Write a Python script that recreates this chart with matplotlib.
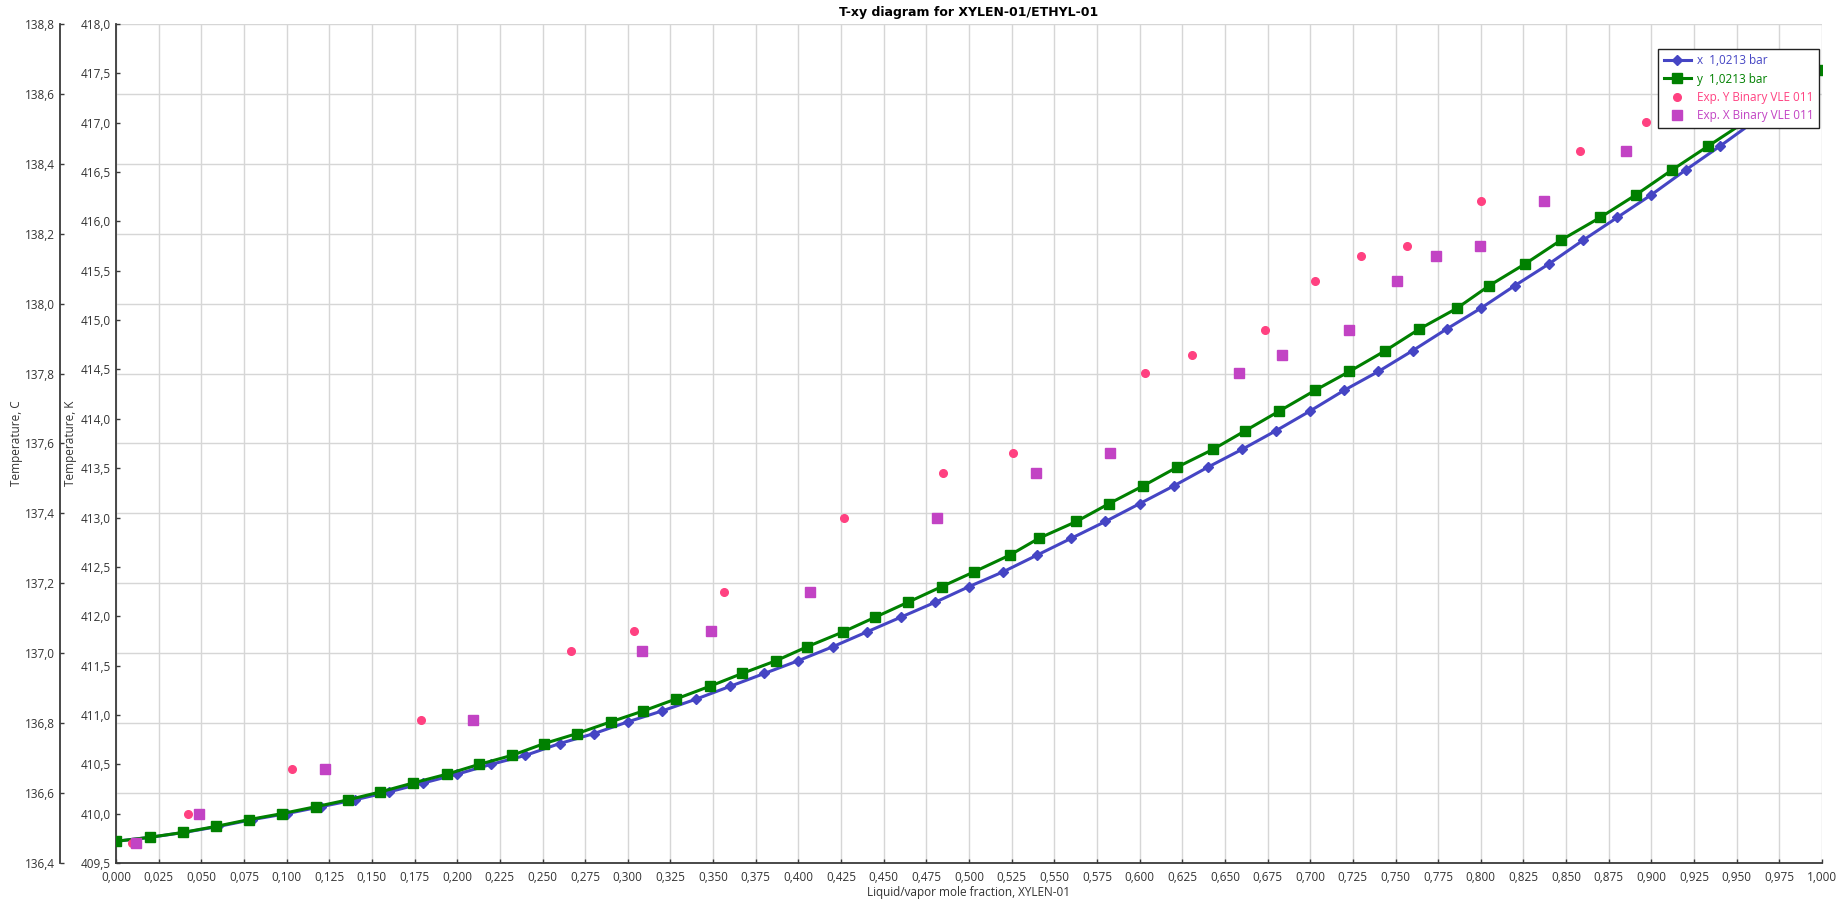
import numpy as np
import matplotlib.pyplot as plt
from matplotlib.ticker import FuncFormatter, MultipleLocator

plt.rcParams['font.family'] = ['Open Sans', 'DejaVu Sans']

# --- model curves at 1,0213 bar (T in K) ---
x_liq = [0.00, 0.02, 0.04, 0.06, 0.08, 0.10, 0.12, 0.14, 0.16, 0.18,
         0.20, 0.22, 0.24, 0.26, 0.28, 0.30, 0.32, 0.34, 0.36, 0.38,
         0.40, 0.42, 0.44, 0.46, 0.48, 0.50, 0.52, 0.54, 0.56, 0.58,
         0.60, 0.62, 0.64, 0.66, 0.68, 0.70, 0.72, 0.74, 0.76, 0.78,
         0.80, 0.82, 0.84, 0.86, 0.88, 0.90, 0.92, 0.94, 0.96, 0.98, 1.00]
y_vap = [0.000, 0.0197, 0.0394, 0.0584, 0.078, 0.0972, 0.117, 0.136, 0.155, 0.174,
         0.194, 0.213, 0.232, 0.251, 0.270, 0.290, 0.309, 0.328, 0.348, 0.367,
         0.387, 0.405, 0.426, 0.445, 0.464, 0.484, 0.503, 0.524, 0.541, 0.563,
         0.582, 0.602, 0.622, 0.643, 0.662, 0.682, 0.703, 0.723, 0.744, 0.764,
         0.786, 0.805, 0.826, 0.847, 0.870, 0.891, 0.912, 0.933, 0.955, 0.977, 1.000]
T_model = [409.72, 409.76, 409.81, 409.87, 409.94, 410.00, 410.07, 410.14, 410.22, 410.31,
           410.40, 410.50, 410.59, 410.71, 410.81, 410.93, 411.04, 411.16, 411.29, 411.42,
           411.55, 411.69, 411.84, 411.99, 412.14, 412.30, 412.45, 412.62, 412.79, 412.96,
           413.14, 413.32, 413.51, 413.69, 413.88, 414.08, 414.29, 414.48, 414.69, 414.91,
           415.12, 415.35, 415.57, 415.81, 416.04, 416.27, 416.52, 416.76, 417.01, 417.27, 417.53]

# --- experimental data (Binary VLE 011) ---
T_exp = [409.70, 410.00, 410.455, 410.95, 411.65, 411.85, 412.25, 413.00, 413.45, 413.65,
         414.46, 414.65, 414.90, 415.40, 415.65, 415.75, 416.21, 416.71, 417.01]
y_exp = [0.0093, 0.042, 0.103, 0.1787, 0.2666, 0.3038, 0.3565, 0.4268, 0.4848, 0.5258,
         0.6034, 0.6307, 0.6735, 0.703, 0.7297, 0.7565, 0.800, 0.858, 0.897]
x_exp = [0.0117, 0.0488, 0.1226, 0.209, 0.3085, 0.349, 0.4067, 0.4815, 0.5395, 0.5825,
         0.658, 0.6837, 0.723, 0.7506, 0.7738, 0.7993, 0.837, 0.885, 0.93]

BLUE = '#4545c4'
GREEN = '#008000'
PINK = '#ff4181'
MAGENTA = '#c243c4'
SPINE = '#3a3a3a'

comma = lambda fmt: FuncFormatter(lambda v, p: (fmt % v).replace('.', ','))

W, H = 1845, 906
fig = plt.figure(figsize=(W / 100, H / 100), dpi=100)
L, R, B, T = 116, 1822, 863, 24
ax = fig.add_axes([L / W, 1 - B / H, (R - L) / W, (B - T) / H])

# Celsius axis carries the grid, Kelvin twin carries the data
ax.set_ylim(136.4, 138.8)
ax.yaxis.set_major_locator(MultipleLocator(0.2))
ax.yaxis.set_major_formatter(comma('%.1f'))
ax.set_xlim(0, 1)
ax.xaxis.set_major_locator(MultipleLocator(0.025))
ax.xaxis.set_major_formatter(comma('%.3f'))
ax.grid(True, color='#d6d6d6', linewidth=1.0)
ax.spines['left'].set_position(('outward', 56 * 0.72))
for s in ['top', 'right']:
    ax.spines[s].set_visible(False)

axk = ax.twinx()
axk.set_ylim(409.5, 418.0)
axk.yaxis.set_major_locator(MultipleLocator(0.5))
axk.yaxis.set_major_formatter(comma('%.1f'))
axk.yaxis.set_ticks_position('left')
axk.yaxis.set_label_position('left')
axk.spines['left'].set_position(('outward', 0))
axk.spines['left'].set_visible(True)
for s in ['top', 'right', 'bottom']:
    axk.spines[s].set_visible(False)

for a in (ax, axk):
    for s in a.spines.values():
        s.set_color(SPINE)
        s.set_linewidth(1.3)
    a.tick_params(direction='in', length=3, width=1, color=SPINE,
                  labelsize=8.5, labelcolor='#333333', pad=4)
ax.tick_params(axis='x', pad=6)

axk.plot(x_liq, T_model, '-D', color=BLUE, linewidth=2.2, markersize=4.8,
         label='x  1,0213 bar', zorder=3)
axk.plot(y_vap, T_model, '-s', color=GREEN, linewidth=2.2, markersize=6.5,
         label='y  1,0213 bar', zorder=4)
axk.plot(y_exp, T_exp, 'o', color=PINK, markersize=5.5, linestyle='none',
         label='Exp. Y Binary VLE 011', zorder=5)
axk.plot(x_exp, T_exp, 's', color=MAGENTA, markersize=6.5, linestyle='none',
         label='Exp. X Binary VLE 011', zorder=5)

ax.set_ylabel('Temperature, C', fontsize=8.5, color='#333333')
ax.yaxis.set_label_coords(-0.0545, 0.5)
axk.set_ylabel('Temperature, K', fontsize=8.5, color='#333333')
axk.yaxis.set_label_coords(-0.0229, 0.5)
ax.set_xlabel('Liquid/vapor mole fraction, XYLEN-01', fontsize=8.5,
              color='#333333', labelpad=1)
ax.set_title('T-xy diagram for XYLEN-01/ETHYL-01', fontsize=9, fontweight='bold',
             family=['Liberation Sans Narrow', 'DejaVu Sans'], pad=6)

leg = axk.legend(loc='upper right', bbox_to_anchor=(0.9982, 0.9702), fontsize=8.5,
                 fancybox=False, framealpha=1, edgecolor='#222222',
                 handlelength=2.3, borderpad=0.45, labelspacing=0.45,
                 handletextpad=0.5, borderaxespad=0)
leg.set_zorder(10)
leg.get_frame().set_linewidth(1.0)
for txt, c in zip(leg.get_texts(), [BLUE, GREEN, PINK, MAGENTA]):
    txt.set_color(c)

fig.savefig('out.png', dpi=100)
